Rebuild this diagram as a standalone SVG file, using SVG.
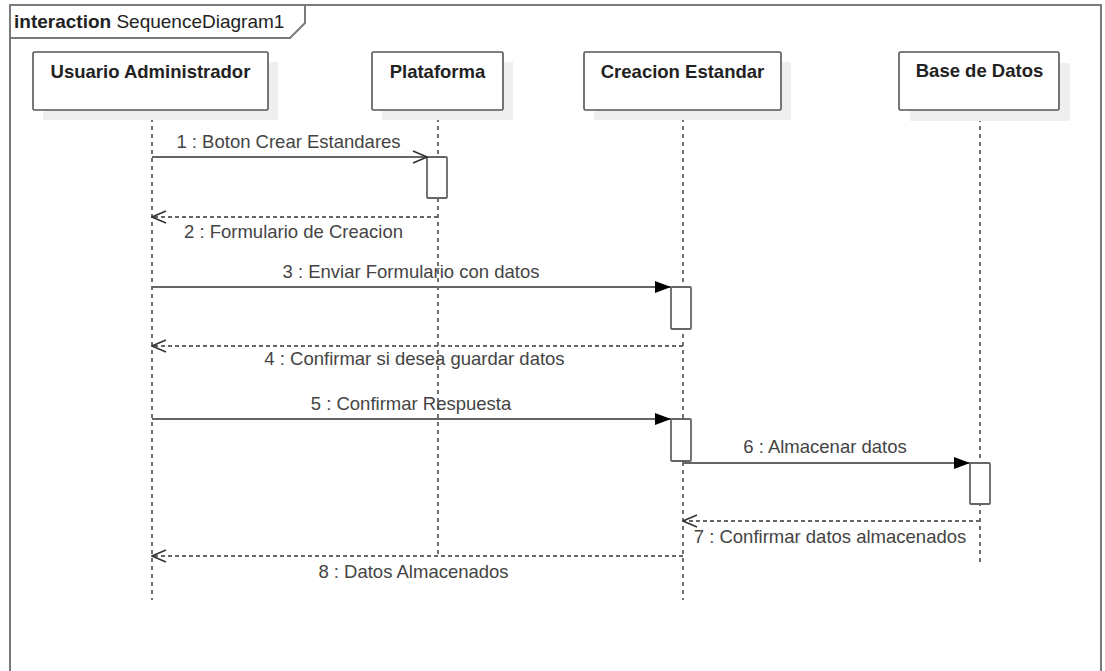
<svg xmlns="http://www.w3.org/2000/svg" width="1105" height="671" viewBox="0 0 1105 671">
<defs>
<style>
.frame{fill:none;stroke:#7a7a7a;stroke-width:2}
.head{fill:#fff;stroke:#555;stroke-width:1.6}
.shadow{fill:#efefef;stroke:none}
.hd{font-family:"Liberation Sans",Arial,sans-serif;font-size:18.5px;font-weight:bold;fill:#222;text-anchor:middle}
.lbl{font-family:"Liberation Sans",Arial,sans-serif;font-size:18.5px;fill:#444;text-anchor:middle}
.life{stroke:#111;stroke-width:1.2;stroke-dasharray:4,4;fill:none}
.act{fill:#fff;stroke:#666;stroke-width:1.8}
.msg{stroke:#666;stroke-width:2;fill:none}
.ret{stroke:#666;stroke-width:1.8;stroke-dasharray:4,3;fill:none}
</style>
<marker id="filled" viewBox="0 0 16 12" refX="16" refY="6" markerWidth="16" markerHeight="12" markerUnits="userSpaceOnUse" orient="auto">
<path d="M0,0 L16,6 L0,12 Z" fill="#000"/>
</marker>
<marker id="open" viewBox="0 0 16 14" refX="15" refY="7" markerWidth="16" markerHeight="14" markerUnits="userSpaceOnUse" orient="auto">
<path d="M1,1 L15,7 L1,13" fill="none" stroke="#333" stroke-width="1.5"/>
</marker>
</defs>
<rect width="1105" height="671" fill="#fff"/>
<g id="frame">
<rect class="frame" x="10" y="5" width="1091" height="700"/>
<path class="frame" d="M10,38 L290,38 L305,23 L305,5"/>
<text x="14" y="28" font-family="'Liberation Sans',Arial,sans-serif" font-size="19px" fill="#222"><tspan font-weight="bold">interaction</tspan> SequenceDiagram1</text>
</g>
<g id="lifelines">
<line class="life" x1="152" y1="110" x2="152" y2="600"/>
<line class="life" x1="438" y1="110" x2="438" y2="556"/>
<line class="life" x1="683" y1="110" x2="683" y2="600"/>
<line class="life" x1="980" y1="110" x2="980" y2="564"/>
</g>
<g id="usuario">
<rect class="shadow" x="43" y="62" width="235" height="58"/>
<rect class="head" x="33" y="52" width="235" height="58" rx="1.5"/>
<text class="hd" x="150.5" y="78">Usuario Administrador</text>
</g>
<g id="plataforma">
<rect class="shadow" x="382" y="62" width="131" height="58"/>
<rect class="head" x="372" y="52" width="131" height="58" rx="1.5"/>
<text class="hd" x="437.5" y="78">Plataforma</text>
</g>
<g id="creacion">
<rect class="shadow" x="594" y="62" width="197" height="58"/>
<rect class="head" x="584" y="52" width="197" height="58" rx="1.5"/>
<text class="hd" x="682.5" y="78">Creacion Estandar</text>
</g>
<g id="basedatos">
<rect class="shadow" x="910" y="63" width="160" height="58"/>
<rect class="head" x="899" y="52" width="160" height="58" rx="1.5"/>
<text class="hd" x="979.5" y="77">Base de Datos</text>
</g>
<g id="activations">
<rect class="act" x="427" y="157" width="20" height="41" rx="1"/>
<rect class="act" x="671" y="287" width="20" height="42" rx="1"/>
<rect class="act" x="671" y="419" width="20" height="42" rx="1"/>
<rect class="act" x="970" y="463" width="20" height="41" rx="1"/>
</g>
<g id="connectors">
<line class="msg" x1="152" y1="157" x2="427" y2="157" marker-end="url(#open)"/>
<text class="lbl" x="288.5" y="148">1 : Boton Crear Estandares</text>
<line class="ret" x1="438" y1="217" x2="152" y2="217" marker-end="url(#open)"/>
<text class="lbl" x="293.5" y="238">2 : Formulario de Creacion</text>
<line class="msg" x1="152" y1="287" x2="671" y2="287" marker-end="url(#filled)"/>
<text class="lbl" x="411" y="278">3 : Enviar Formulario con datos</text>
<line class="ret" x1="683" y1="346" x2="152" y2="346" marker-end="url(#open)"/>
<text class="lbl" x="414.5" y="365">4 : Confirmar si desea guardar datos</text>
<line class="msg" x1="152" y1="419" x2="671" y2="419" marker-end="url(#filled)"/>
<text class="lbl" x="411" y="410">5 : Confirmar Respuesta</text>
<line class="msg" x1="683" y1="463" x2="970" y2="463" marker-end="url(#filled)"/>
<text class="lbl" x="825" y="453">6 : Almacenar datos</text>
<line class="ret" x1="980" y1="521" x2="683" y2="521" marker-end="url(#open)"/>
<text class="lbl" x="830" y="543">7 : Confirmar datos almacenados</text>
<line class="ret" x1="683" y1="556" x2="152" y2="556" marker-end="url(#open)"/>
<text class="lbl" x="413.5" y="578">8 : Datos Almacenados</text>
</g>
</svg>
